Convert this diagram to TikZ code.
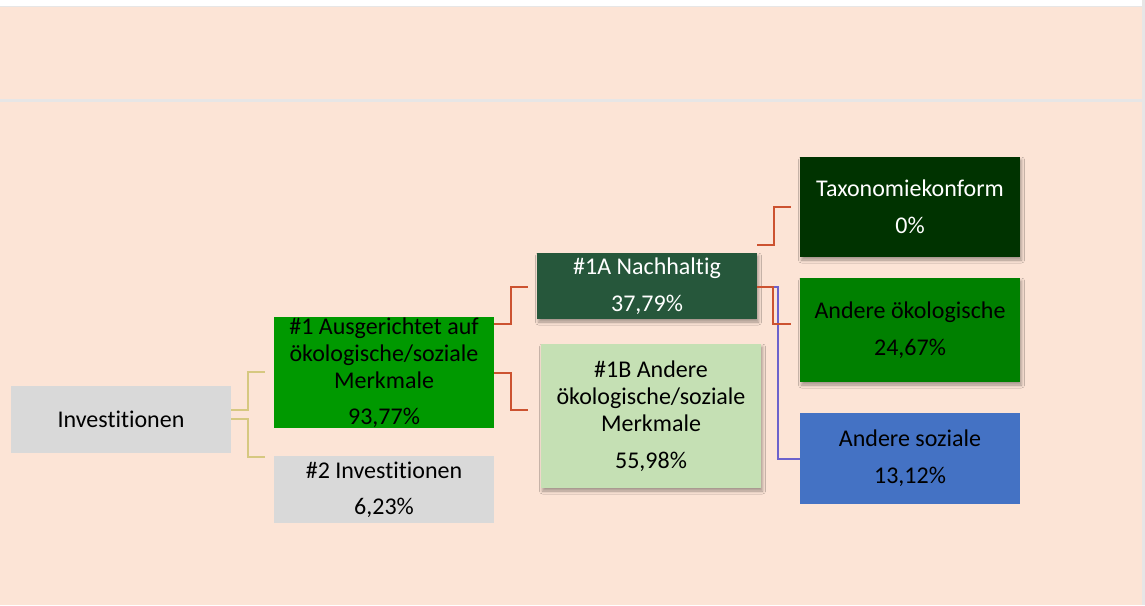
\documentclass[tikz,border=0pt]{standalone}
\usepackage{fontspec}
\setmainfont{Carlito}[Ligatures=NoCommon]
\usetikzlibrary{shadows.blur}
\definecolor{peach}{RGB}{252,228,214}
\definecolor{edgegray}{RGB}{231,230,230}
\definecolor{boxgray}{RGB}{217,217,217}
\definecolor{greenA}{RGB}{0,153,0}
\definecolor{green1A}{RGB}{38,87,59}
\definecolor{green1B}{RGB}{197,224,180}
\definecolor{greenTax}{RGB}{0,51,0}
\definecolor{greenOek}{RGB}{0,128,0}
\definecolor{blueSoz}{RGB}{68,114,196}
\definecolor{redline}{RGB}{204,82,48}
\definecolor{tanline}{RGB}{214,200,128}
\definecolor{blueline}{RGB}{108,98,204}
\tikzset{
  box/.style={rectangle, inner sep=0pt, minimum width=220pt, align=center,
    font=\fontsize{24}{27}\selectfont},
  shadowed/.style={blur shadow={shadow xshift=1.5pt, shadow yshift=-3pt,
    shadow blur radius=3pt, shadow opacity=35}},
  conn/.style={line width=2pt},
}
\begin{document}
\begin{tikzpicture}[x=1pt,y=-1pt]
\useasboundingbox (0,0) rectangle (1145,605);
\fill[white] (0,0) rectangle (1145,605);
\fill[peach] (0,7) rectangle (1142,605);
\fill[edgegray] (0,5.8) rectangle (1142,7.4);
\fill[edgegray] (0,99.4) rectangle (1142,101.8);
\fill[edgegray] (1141.8,0) rectangle (1145,605);

% boxes
\node[box, fill=boxgray, minimum height=67pt] (inv) at (121,419.5) {Investitionen};
\node[box, fill=greenA, minimum height=111pt] (n1) at (384,372.5)
  {\#1 Ausgerichtet auf\\ökologische/soziale\\Merkmale\\[9pt]93,77\%};
\node[box, fill=boxgray, minimum height=67pt] (n2) at (384,489.5)
  {\#2 Investitionen\\[9pt]6,23\%};
\node[box, shadowed, fill=green1A, text=white, minimum height=66pt] (n1a) at (647,286)
  {\#1A Nachhaltig\\[10pt]37,79\%};
\node[box, shadowed, fill=green1B, minimum height=144pt] (n1b) at (651,416)
  {\#1B Andere\\ökologische/soziale\\Merkmale\\[10pt]55,98\%};
\node[box, shadowed, fill=greenTax, text=white, minimum height=100pt] (tax) at (910,207)
  {Taxonomiekonform\\[10pt]0\%};
\node[box, shadowed, fill=greenOek, minimum height=104pt] (oek) at (910,330)
  {Andere ökologische\\[10pt]24,67\%};
\node[box, fill=blueSoz, minimum height=91pt] (soz) at (910,458.5)
  {Andere soziale\\[10pt]13,12\%};

% free ends
\coordinate (e1) at (265,372);
\coordinate (e2) at (265,457);
\coordinate (e3) at (528,287);
\coordinate (e4) at (528,410);
\coordinate (e5) at (791,207);
\coordinate (e6) at (791,324);

% connectors
\draw[conn, tanline] (inv.east |- 0,410) -- ++(17,0) |- (e1);
\draw[conn, tanline] (inv.east |- 0,419) -- ++(17,0) |- (e2);
\draw[conn, blueline] (n1a.east |- 0,287) -- ++(21,0) |- (soz.west);
\draw[conn, redline] (n1.east |- 0,324) -- ++(17,0) |- (e3);
\draw[conn, redline] (n1.east |- 0,373) -- ++(17,0) |- (e4);
\draw[conn, redline] (n1a.east |- 0,245) -- ++(17,0) |- (e5);
\draw[conn, redline] (n1a.east |- 0,287) -- ++(16,0) |- (e6);
\end{tikzpicture}
\end{document}
